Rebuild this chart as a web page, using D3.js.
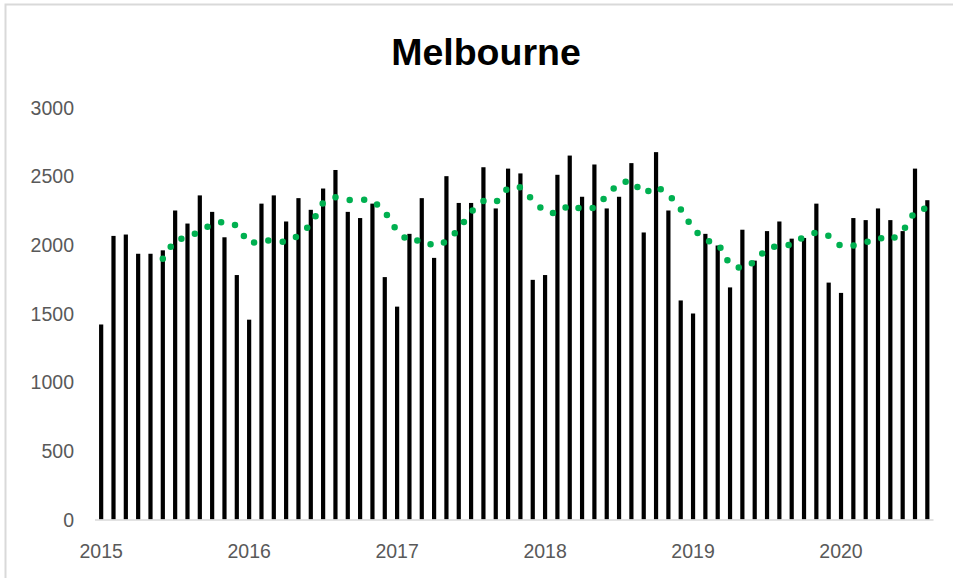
<!DOCTYPE html>
<html>
<head>
<meta charset="utf-8">
<script src="https://cdn.jsdelivr.net/npm/d3@7"></script>
<style>
  body { margin: 0; background: #fff; }
  svg { display: block; }
</style>
</head>
<body>
<script>

// monthly values, Jan 2015 .. Aug 2020
var years = [2015, 2016, 2017, 2018, 2019, 2020];
var months = [];
years.forEach(function(y) {
    for (var m = 0; m < 12; m++) months.push(y + '-' + (m + 1));
});
months = months.slice(0, 68);

var values = [
    1420, 2065, 2075, 1935, 1935, 1960, 2250, 2155, 2360, 2240, 2055, 1780,
    1455, 2300, 2360, 2170, 2340, 2255, 2410, 2545, 2240, 2195, 2300, 1765,
    1550, 2080, 2340, 1905, 2500, 2305, 2305, 2565, 2265, 2555, 2520, 1745,
    1780, 2510, 2650, 2350, 2585, 2265, 2350, 2595, 2090, 2675, 2250, 1595,
    1500, 2080, 1995, 1690, 2110, 1885, 2100, 2170, 2045, 2050, 2300, 1725,
    1650, 2195, 2180, 2265, 2180, 2100, 2555, 2325
];

var yTicks = [0, 500, 1000, 1500, 2000, 2500, 3000];
var maPeriod = 6; // moving average trendline period

var W = 953, H = 578;
var svg = d3.select("body").append("svg:svg")
    .attr('width', W).attr('height', H);

// chart frame
svg.append('rect')
    .attr('x', 5.5).attr('y', 4.5)
    .attr('width', W + 20).attr('height', H + 20)
    .attr('fill', '#fff')
    .attr('stroke', '#d9d9d9')
    .attr('stroke-width', 2);

svg.append('text')
    .attr('x', 486).attr('y', 65)
    .attr('text-anchor', 'middle')
    .attr('font-family', 'Liberation Sans, Arial, sans-serif')
    .attr('font-weight', 'bold')
    .attr('font-size', 37.5)
    .attr('fill', '#000')
    .text('Melbourne');

var x = d3.scaleBand().domain(months).range([95, 933.5]);
var y = d3.scaleLinear().domain([0, 3000]).range([519.5, 107.5]);

// y labels
svg.append('g').selectAll('text').data(yTicks).enter().append('text')
    .attr('x', 74)
    .attr('y', function(d) { return y(d) + 7; })
    .attr('text-anchor', 'end')
    .attr('font-family', 'Liberation Sans, Arial, sans-serif')
    .attr('font-size', 19.5)
    .attr('fill', '#595959')
    .text(function(d) { return d; });

// bars
var bw = 4.2;
svg.append('g').selectAll('rect').data(values).enter().append('rect')
    .attr('x', function(d, i) { return x(months[i]) + x.bandwidth() / 2 - bw / 2; })
    .attr('y', function(d) { return y(d); })
    .attr('width', bw)
    .attr('height', function(d) { return y(0) - y(d); })
    .attr('fill', '#000');

// x axis line
svg.append('line')
    .attr('x1', x.range()[0]).attr('x2', x.range()[1])
    .attr('y1', y(0) + 0.5).attr('y2', y(0) + 0.5)
    .attr('stroke', '#d9d9d9')
    .attr('stroke-width', 1.5);

// year labels under each january
svg.append('g').selectAll('text').data(years).enter().append('text')
    .attr('x', function(d) { return x(d + '-1') + x.bandwidth() / 2; })
    .attr('y', 558)
    .attr('text-anchor', 'middle')
    .attr('font-family', 'Liberation Sans, Arial, sans-serif')
    .attr('font-size', 19.5)
    .attr('fill', '#595959')
    .text(function(d) { return d; });

// moving average trendline, round dots
var ma = [];
for (var i = maPeriod - 1; i < values.length; i++) {
    ma.push({ i: i, v: d3.mean(values.slice(i - maPeriod + 1, i + 1)) });
}
var line = d3.line()
    .x(function(d) { return x(months[d.i]) + x.bandwidth() / 2; })
    .y(function(d) { return y(d.v); });

svg.append('path')
    .attr('d', line(ma))
    .attr('fill', 'none')
    .attr('stroke', '#00b050')
    .attr('stroke-width', 6.5)
    .attr('stroke-linecap', 'round')
    .attr('stroke-dasharray', '0,14.5');

</script>
</body>
</html>
